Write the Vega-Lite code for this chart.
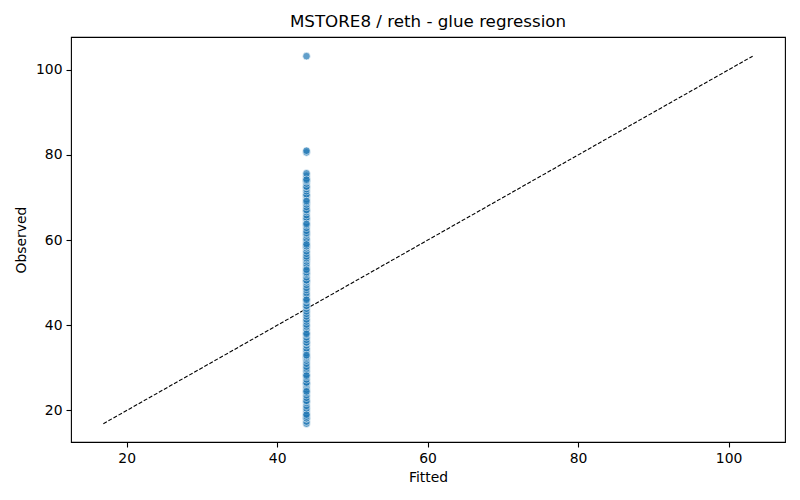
{
  "$schema": "https://vega.github.io/schema/vega-lite/v6.json",
  "width": 714,
  "height": 405,
  "autosize": "none",
  "padding": {"left": 71, "top": 37, "right": 15, "bottom": 58},
  "background": "white",
  "title": {
    "text": "MSTORE8 / reth - glue regression",
    "fontSize": 16.7,
    "fontWeight": "normal",
    "font": "DejaVu Sans",
    "color": "#000000",
    "offset": 6
  },
  "datasets": {
    "obs": [
      {"fitted": 43.9, "observed": 16.9}, {"fitted": 43.9, "observed": 17.4}, {"fitted": 43.9, "observed": 18.1},
      {"fitted": 43.9, "observed": 18.2}, {"fitted": 43.9, "observed": 18.6}, {"fitted": 43.9, "observed": 19.2},
      {"fitted": 43.9, "observed": 19.9}, {"fitted": 43.9, "observed": 20.5}, {"fitted": 43.9, "observed": 21.1},
      {"fitted": 43.9, "observed": 21.8}, {"fitted": 43.9, "observed": 22.2}, {"fitted": 43.9, "observed": 22.3},
      {"fitted": 43.9, "observed": 23.0}, {"fitted": 43.9, "observed": 23.6}, {"fitted": 43.9, "observed": 24.2},
      {"fitted": 43.9, "observed": 24.9}, {"fitted": 43.9, "observed": 25.5}, {"fitted": 43.9, "observed": 26.1},
      {"fitted": 43.9, "observed": 26.4}, {"fitted": 43.9, "observed": 26.6}, {"fitted": 43.9, "observed": 27.3},
      {"fitted": 43.9, "observed": 27.9}, {"fitted": 43.9, "observed": 28.5}, {"fitted": 43.9, "observed": 29.2},
      {"fitted": 43.9, "observed": 29.8}, {"fitted": 43.9, "observed": 30.3}, {"fitted": 43.9, "observed": 31.0},
      {"fitted": 43.9, "observed": 31.7}, {"fitted": 43.9, "observed": 32.2}, {"fitted": 43.9, "observed": 32.5},
      {"fitted": 43.9, "observed": 32.8}, {"fitted": 43.9, "observed": 33.5}, {"fitted": 43.9, "observed": 34.1},
      {"fitted": 43.9, "observed": 34.6}, {"fitted": 43.9, "observed": 35.3}, {"fitted": 43.9, "observed": 35.9},
      {"fitted": 43.9, "observed": 36.0}, {"fitted": 43.9, "observed": 36.6}, {"fitted": 43.9, "observed": 37.2},
      {"fitted": 43.9, "observed": 37.8}, {"fitted": 43.9, "observed": 38.3}, {"fitted": 43.9, "observed": 39.0},
      {"fitted": 43.9, "observed": 39.7}, {"fitted": 43.9, "observed": 40.2}, {"fitted": 43.9, "observed": 40.9},
      {"fitted": 43.9, "observed": 41.4}, {"fitted": 43.9, "observed": 42.1}, {"fitted": 43.9, "observed": 42.7},
      {"fitted": 43.9, "observed": 43.3}, {"fitted": 43.9, "observed": 43.9}, {"fitted": 43.9, "observed": 44.5},
      {"fitted": 43.9, "observed": 44.6}, {"fitted": 43.9, "observed": 45.2}, {"fitted": 43.9, "observed": 45.8},
      {"fitted": 43.9, "observed": 46.3}, {"fitted": 43.9, "observed": 47.0}, {"fitted": 43.9, "observed": 47.6},
      {"fitted": 43.9, "observed": 48.3}, {"fitted": 43.9, "observed": 48.8}, {"fitted": 43.9, "observed": 49.5},
      {"fitted": 43.9, "observed": 50.1}, {"fitted": 43.9, "observed": 50.5}, {"fitted": 43.9, "observed": 50.6},
      {"fitted": 43.9, "observed": 51.3}, {"fitted": 43.9, "observed": 51.9}, {"fitted": 43.9, "observed": 52.2},
      {"fitted": 43.9, "observed": 52.5}, {"fitted": 43.9, "observed": 53.2}, {"fitted": 43.9, "observed": 53.7},
      {"fitted": 43.9, "observed": 54.4}, {"fitted": 43.9, "observed": 55.0}, {"fitted": 43.9, "observed": 55.5},
      {"fitted": 43.9, "observed": 55.8}, {"fitted": 43.9, "observed": 56.2}, {"fitted": 43.9, "observed": 56.8},
      {"fitted": 43.9, "observed": 57.4}, {"fitted": 43.9, "observed": 58.1}, {"fitted": 43.9, "observed": 58.5},
      {"fitted": 43.9, "observed": 58.6}, {"fitted": 43.9, "observed": 59.3}, {"fitted": 43.9, "observed": 59.9},
      {"fitted": 43.9, "observed": 60.4}, {"fitted": 43.9, "observed": 61.1}, {"fitted": 43.9, "observed": 61.5},
      {"fitted": 43.9, "observed": 61.7}, {"fitted": 43.9, "observed": 62.2}, {"fitted": 43.9, "observed": 62.9},
      {"fitted": 43.9, "observed": 63.5}, {"fitted": 43.9, "observed": 64.1}, {"fitted": 43.9, "observed": 64.8},
      {"fitted": 43.9, "observed": 65.0}, {"fitted": 43.9, "observed": 65.3}, {"fitted": 43.9, "observed": 65.9},
      {"fitted": 43.9, "observed": 66.6}, {"fitted": 43.9, "observed": 67.0}, {"fitted": 43.9, "observed": 67.1},
      {"fitted": 43.9, "observed": 67.8}, {"fitted": 43.9, "observed": 68.4}, {"fitted": 43.9, "observed": 68.9},
      {"fitted": 43.9, "observed": 69.6}, {"fitted": 43.9, "observed": 70.2}, {"fitted": 43.9, "observed": 70.5},
      {"fitted": 43.9, "observed": 70.8}, {"fitted": 43.9, "observed": 71.5}, {"fitted": 43.9, "observed": 72.0},
      {"fitted": 43.9, "observed": 72.5}, {"fitted": 43.9, "observed": 72.6}, {"fitted": 43.9, "observed": 73.3},
      {"fitted": 43.9, "observed": 73.8}, {"fitted": 43.9, "observed": 74.0}, {"fitted": 43.9, "observed": 74.5},
      {"fitted": 43.9, "observed": 75.1}, {"fitted": 43.9, "observed": 75.7}, {"fitted": 43.9, "observed": 80.6},
      {"fitted": 43.9, "observed": 81.0}, {"fitted": 43.9, "observed": 103.2},
      {"fitted": 43.9, "observed": 19.0}, {"fitted": 43.9, "observed": 24.5}, {"fitted": 43.9, "observed": 28.2},
      {"fitted": 43.9, "observed": 33.0}, {"fitted": 43.9, "observed": 38.0}, {"fitted": 43.9, "observed": 46.0},
      {"fitted": 43.9, "observed": 53.0}, {"fitted": 43.9, "observed": 59.0}, {"fitted": 43.9, "observed": 63.8},
      {"fitted": 43.9, "observed": 69.2}, {"fitted": 43.9, "observed": 74.2}
    ],
    "diag": [
      {"fitted": 16.9, "observed": 16.9},
      {"fitted": 103.2, "observed": 103.2}
    ]
  },
  "layer": [
    {
      "data": {"name": "diag"},
      "mark": {"type": "line", "color": "black", "strokeWidth": 1.1, "strokeDash": [4, 1.8]},
      "encoding": {
        "x": {"field": "fitted", "type": "quantitative"},
        "y": {"field": "observed", "type": "quantitative"}
      }
    },
    {
      "data": {"name": "obs"},
      "mark": {
        "type": "point",
        "filled": true,
        "size": 58,
        "color": "#1f77b4",
        "opacity": 0.7,
        "stroke": "white",
        "strokeWidth": 0.7,
        "strokeOpacity": 1
      },
      "encoding": {
        "x": {
          "field": "fitted",
          "type": "quantitative",
          "title": "Fitted",
          "scale": {"domain": [12.6, 107.5], "nice": false, "zero": false},
          "axis": {"values": [20, 40, 60, 80, 100]}
        },
        "y": {
          "field": "observed",
          "type": "quantitative",
          "title": "Observed",
          "scale": {"domain": [12.6, 107.7], "nice": false, "zero": false},
          "axis": {"values": [20, 40, 60, 80, 100]}
        }
      }
    }
  ],
  "config": {
    "view": {"stroke": "black", "strokeWidth": 1.1},
    "axis": {
      "grid": false,
      "domain": false,
      "tickColor": "black",
      "tickSize": 5,
      "tickWidth": 1.1,
      "labelFont": "DejaVu Sans",
      "labelFontSize": 13.9,
      "labelColor": "black",
      "labelPadding": 4,
      "titleFont": "DejaVu Sans",
      "titleFontSize": 13.9,
      "titleFontWeight": "normal",
      "titleColor": "black"
    },
    "axisX": {"titlePadding": 6},
    "axisY": {"titlePadding": 7}
  }
}
